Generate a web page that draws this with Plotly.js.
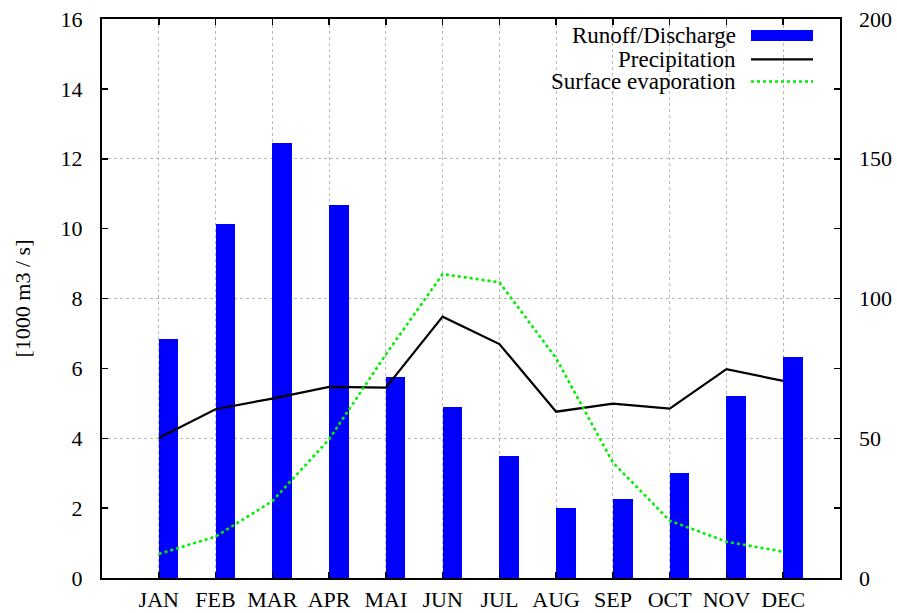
<!DOCTYPE html>
<html>
<head>
<meta charset="utf-8">
<script src="https://cdn.plot.ly/plotly-3.0.1.min.js"></script>
<style>
  html, body { margin: 0; padding: 0; background: #fff; }
  #chart { width: 897px; height: 613px; }
</style>
</head>
<body>
<div id="chart"></div>
<script>
// ---- data ----
const months = ["JAN", "FEB", "MAR", "APR", "MAI", "JUN", "JUL", "AUG", "SEP", "OCT", "NOV", "DEC"];
const runoff = [6.84, 10.12, 12.44, 10.67, 5.74, 4.89, 3.48, 2.0, 2.27, 3.01, 5.21, 6.34];       // [1000 m3 / s], left axis
const precipitation = [50.1, 60.4, 64.2, 68.4, 68.1, 93.5, 83.7, 59.5, 62.4, 60.6, 74.7, 70.5]; // right axis
const evaporation = [8.6, 14.8, 27.5, 49.6, 80, 108.7, 105.8, 78.6, 41.3, 20.5, 13, 9.4];       // right axis
const seriesNames = ["Runoff/Discharge", "Precipitation", "Surface evaporation"];
const yTitle = "[1000 m3 / s]";

// ---- styles ----
const FONT = "Liberation Serif, Times New Roman, serif";
const BLUE = "#0000ff", BLACK = "#000000", GREEN = "#00ee00";

const traces = [
  { type: "bar", x: months, y: runoff, name: seriesNames[0], marker: { color: BLUE, line: { width: 0 } },
    width: 0.345, offset: 0, yaxis: "y", showlegend: false, hoverinfo: "x+y" },
  { type: "scatter", mode: "lines", x: months, y: precipitation, name: seriesNames[1],
    line: { color: BLACK, width: 2.2 }, yaxis: "y2", showlegend: false },
  { type: "scatter", mode: "lines", x: months, y: evaporation, name: seriesNames[2],
    line: { color: GREEN, width: 2.6, dash: "dot" }, yaxis: "y2", showlegend: false }
];

// legend (gnuplot style: text right-aligned, sample to the right)
const legY = [0.9696, 0.9276, 0.8882];
const annotations = seriesNames.map((n, i) => ({
  xref: "paper", yref: "paper", x: 0.8604, y: legY[i], xanchor: "right", yanchor: "middle",
  text: n, showarrow: false, borderpad: 0,
  font: { family: FONT, size: 23, color: "#000" }
}));
const shapes = [
  { type: "rect", xref: "paper", yref: "paper", x0: 0.8794, x1: 0.9634, y0: 0.9606, y1: 0.9803,
    fillcolor: BLUE, line: { width: 0 } },
  { type: "line", xref: "paper", yref: "paper", x0: 0.8794, x1: 0.9634, y0: legY[1], y1: legY[1],
    line: { color: BLACK, width: 2.2 } },
  { type: "line", xref: "paper", yref: "paper", x0: 0.8794, x1: 0.9634, y0: legY[2], y1: legY[2],
    line: { color: GREEN, width: 2.6, dash: "dot" } }
];

const layout = {
  width: 897, height: 613,
  margin: { l: 102, r: 57, t: 19, b: 35, pad: 0 },
  paper_bgcolor: "#fff", plot_bgcolor: "#fff",
  font: { family: FONT, size: 22, color: "#000" },
  showlegend: false,
  bargap: 0,
  xaxis: {
    type: "category", range: [-1, 12],
    showline: true, linecolor: "#000", linewidth: 2, mirror: "ticks",
    ticks: "inside", ticklen: 6, tickwidth: 1.5, tickcolor: "#000",
    showgrid: true, gridcolor: "#b8b8b8", griddash: "dot", gridwidth: 1,
    tickfont: { family: FONT, size: 22 }, ticklabelstandoff: 1,
    zeroline: false, fixedrange: true
  },
  yaxis: {
    range: [0, 16], dtick: 2,
    showline: true, linecolor: "#000", linewidth: 2, mirror: "ticks",
    ticks: "inside", ticklen: 6, tickwidth: 1.5, tickcolor: "#000",
    showgrid: false, zeroline: false,
    tickfont: { family: FONT, size: 22 }, ticklabelstandoff: 13,
    title: { text: yTitle, font: { family: FONT, size: 22 }, standoff: 24 },
    fixedrange: true
  },
  yaxis2: {
    overlaying: "y", side: "right", range: [0, 200], dtick: 50,
    showline: false, ticks: "", zeroline: false,
    showgrid: true, gridcolor: "#b8b8b8", griddash: "dot", gridwidth: 1,
    tickfont: { family: FONT, size: 22 }, ticklabelstandoff: 18,
    fixedrange: true
  },
  annotations: annotations,
  shapes: shapes
};

Plotly.newPlot("chart", traces, layout, { displayModeBar: false, staticPlot: true });
</script>
</body>
</html>
